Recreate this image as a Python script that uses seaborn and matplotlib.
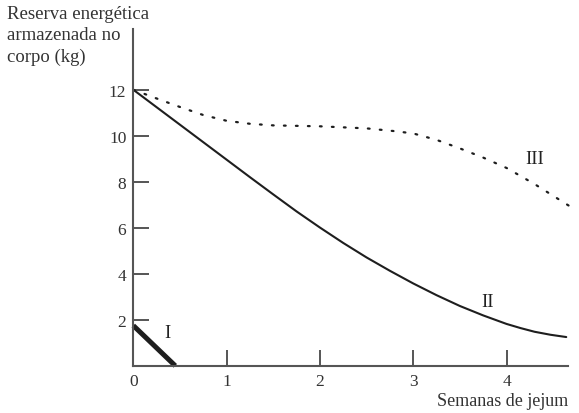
import numpy as np
import pandas as pd
import matplotlib
matplotlib.use('Agg')
import matplotlib.pyplot as plt
import seaborn as sns

sns.set_style('white')
plt.rcParams['font.family'] = ['Liberation Serif', 'DejaVu Serif']

# curva I (reserva de glicogenio)
semanas_I = [0.0, 0.45]
reserva_I = [1.75, 0.0]

# curva II (solida)
semanas_II = [0.0, 0.5, 1.0, 1.25, 1.5, 1.75, 2.0, 2.25, 2.5, 2.75, 3.0, 3.25,
              3.5, 3.75, 4.0, 4.15, 4.3, 4.47, 4.64]
reserva_II = [12.0, 10.48, 8.96, 8.2, 7.45, 6.71, 6.01, 5.34, 4.71, 4.13, 3.58,
              3.07, 2.6, 2.19, 1.82, 1.64, 1.48, 1.35, 1.25]

# curva III (pontilhada)
semanas_III = [0.0, 0.25, 0.5, 0.75, 1.0, 1.25, 1.5, 2.0, 2.5, 2.8, 3.0, 3.25,
               3.5, 3.75, 4.0, 4.3, 4.75]
reserva_III = [12.0, 11.62, 11.25, 10.9, 10.65, 10.52, 10.45, 10.41, 10.32,
               10.2, 10.1, 9.82, 9.45, 9.05, 8.6, 7.9, 6.75]

xticks = [0, 1, 2, 3, 4]
yticks = [2, 4, 6, 8, 10, 12]

fig = plt.figure(figsize=(5.79, 4.14), dpi=100)
ax = fig.add_axes([0.2302, 0.114, 0.751, 0.813])

cor = '#1e1e1e'
eixo = '#555555'

sns.lineplot(x=semanas_I, y=reserva_I, ax=ax, color=cor, linewidth=3.6,
             solid_capstyle='butt', clip_on=False)
sns.lineplot(x=semanas_II, y=reserva_II, ax=ax, color=cor, linewidth=1.5,
             clip_on=False)
sns.lineplot(x=semanas_III, y=reserva_III, ax=ax, color=cor, linewidth=1.6,
             linestyle=(0, (0.8, 4.6)), dash_capstyle='round', clip_on=False)

ax.set_xlim(0, 4.66)
ax.set_ylim(0, 14.63)
ax.set_xticks(xticks)
ax.set_yticks(yticks)
ax.set_xticklabels([str(t) for t in xticks], fontsize=12.5, color='#333333')
ax.set_yticklabels([str(t) for t in yticks], fontsize=12.5, color='#333333')
ax.tick_params(axis='both', direction='in', length=11.5, width=1.4, color=eixo,
               bottom=True, left=True)
ax.tick_params(axis='x', pad=5)
ax.tick_params(axis='y', pad=5)

for s in ['top', 'right']:
    ax.spines[s].set_visible(False)
for s in ['left', 'bottom']:
    ax.spines[s].set_color(eixo)
    ax.spines[s].set_linewidth(1.5)

ax.text(0.37, 1.45, 'I', fontsize=13.5, color='#222222', ha='center', va='center')
ax.text(3.8, 2.8, 'II', fontsize=13.5, color='#222222', ha='center', va='center')
ax.text(4.3, 9.0, 'III', fontsize=13.5, color='#222222', ha='center', va='center')

fig.text(0.012, 0.985, 'Reserva energética\narmazenada no\ncorpo (kg)',
         fontsize=13.5, color='#333333', ha='left', va='top', linespacing=1.32)
fig.text(0.982, 0.03, 'Semanas de jejum', fontsize=13, color='#333333',
         ha='right', va='center')

fig.savefig('out.png', dpi=100)
